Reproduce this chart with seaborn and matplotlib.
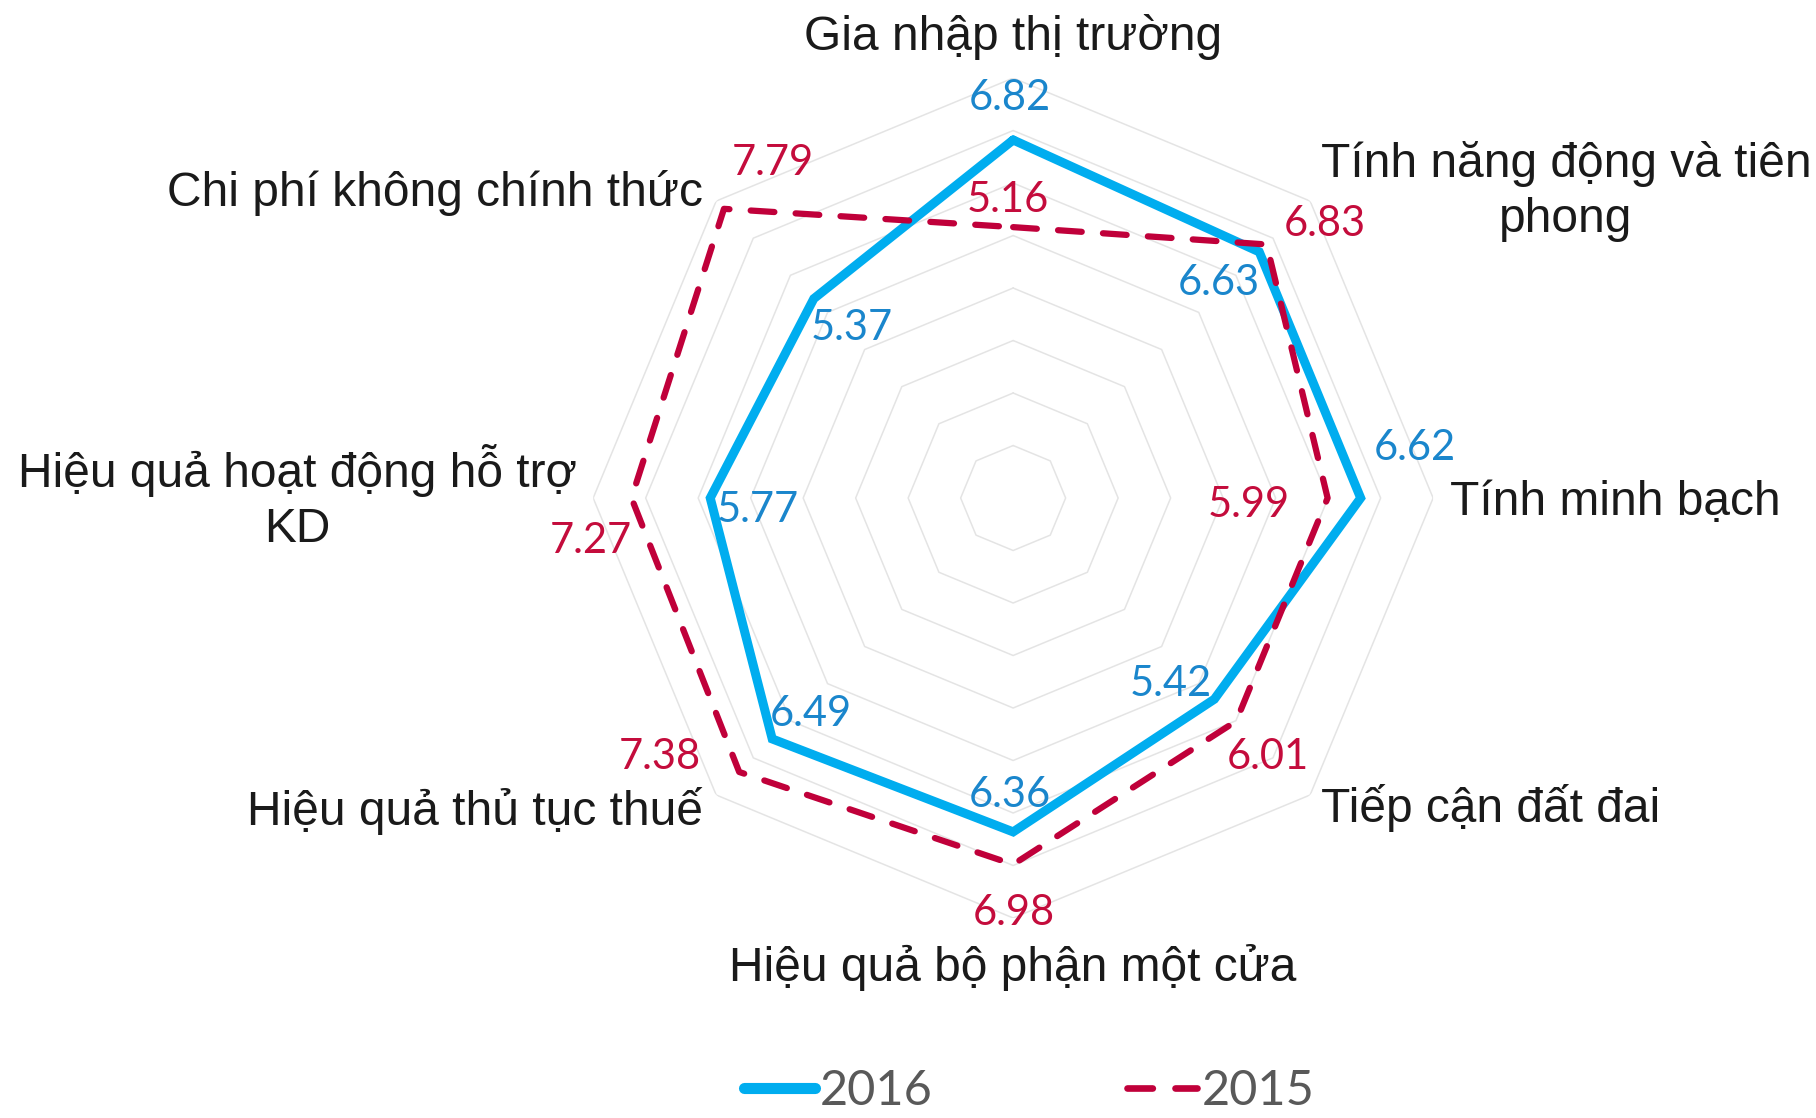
import numpy as np
import pandas as pd
import matplotlib
matplotlib.use("Agg")
import matplotlib.pyplot as plt
import seaborn as sns

# ---- data ----
categories = [
    "Gia nhập thị trường",
    "Tính năng động và tiên\nphong",
    "Tính minh bạch",
    "Tiếp cận đất đai",
    "Hiệu quả bộ phận một cửa",
    "Hiệu quả thủ tục thuế",
    "Hiệu quả hoạt động hỗ trợ\nKD",
    "Chi phí không chính thức",
]
values_2016 = [6.82, 6.63, 6.62, 5.42, 6.36, 6.49, 5.77, 5.37]
values_2015 = [5.16, 6.83, 5.99, 6.01, 6.98, 7.38, 7.27, 7.79]
series_names = ["2016", "2015"]
grid_levels = [1, 2, 3, 4, 5, 6, 7, 8]

# ---- styles ----
COL_2016 = "#00adef"
COL_2015 = "#c0003a"
TXT_2016 = "#1a86cc"
TXT_2015 = "#c40c3c"
W, H = 1816, 1118

sns.set_theme(style="white")
plt.rcParams["font.family"] = ["Liberation Sans", "DejaVu Sans"]
VAL_FONT = ["Lato", "Liberation Sans", "DejaVu Sans"]

fig = plt.figure(figsize=(W / 100, H / 100), dpi=100)
ax = fig.add_axes([0.3266, 0.1789, 0.4626, 0.7513], projection="polar")
ax.set_theta_zero_location("N")
ax.set_theta_direction(-1)

n = len(categories)
theta = np.arange(n) * 2 * np.pi / n
theta_c = np.append(theta, 2 * np.pi)

# octagonal grid
for lvl in grid_levels:
    ax.plot(theta_c, [lvl] * (n + 1), color="#e4e4e4", lw=1.1, zorder=1)

df = pd.DataFrame({
    "theta": np.concatenate([theta_c, theta_c]),
    "value": values_2016 + values_2016[:1] + values_2015 + values_2015[:1],
    "year": [series_names[0]] * (n + 1) + [series_names[1]] * (n + 1),
})

sns.lineplot(data=df[df["year"] == "2016"], x="theta", y="value", sort=False,
             ax=ax, color=COL_2016, linewidth=6.5, label="2016", zorder=3)
sns.lineplot(data=df[df["year"] == "2015"], x="theta", y="value", sort=False,
             ax=ax, color=COL_2015, linewidth=4.5, linestyle=(0, (3.8, 3.4)),
             label="2015", zorder=4)

line16 = [l for l in ax.lines if l.get_label() == "2016"][0]
line15 = [l for l in ax.lines if l.get_label() == "2015"][0]
line16.set_solid_joinstyle("miter")
line15.set_dash_capstyle("round")
line15.set_dash_joinstyle("round")

ax.set_ylim(0, 8)
ax.grid(False)
ax.set_xticks([])
ax.set_yticks([])
ax.spines["polar"].set_visible(False)
ax.set_xlabel("")
ax.set_ylabel("")
ax.patch.set_alpha(0)

# value labels (offsets in pixels, baseline-aligned)
off_2016 = [(-3, 30), (-40, -43), (54, 38), (-44, 3), (-3, 25), (39, 13), (47, -24), (38, -41)]
off_2015 = [(-5, 15), (58, 8), (-79, -19), (32, -48), (1, -61), (-79, 3), (-41, -55), (49, 34)]
for t, v, o in zip(theta, values_2016, off_2016):
    ax.annotate(f"{v:.2f}", xy=(t, v), xytext=o, textcoords="offset pixels",
                ha="center", va="baseline", fontsize=30, color=TXT_2016,
                family=VAL_FONT, zorder=6)
for t, v, o in zip(theta, values_2015, off_2015):
    ax.annotate(f"{v:.2f}", xy=(t, v), xytext=o, textcoords="offset pixels",
                ha="center", va="baseline", fontsize=30, color=TXT_2015,
                family=VAL_FONT, zorder=6)

# category labels (pixel positions of first-line baselines); one text per line
cat_pos = [(1013, 50), (1566, 177), (1615, 515), (1491, 822),
           (1013, 981), (475, 825), (297, 487), (435, 206)]
LINE_STEP = 55
for lab, (px, py) in zip(categories, cat_pos):
    for i, part in enumerate(lab.split("\n")):
        fig.text(px / W, 1 - (py + i * LINE_STEP) / H, part, ha="center",
                 va="baseline", fontsize=34.5, color="#1a1a1a")

# legend
leg = ax.legend([line16, line15], series_names, loc="center",
                bbox_to_anchor=(0.567, 0.024), bbox_transform=fig.transFigure,
                ncol=2, frameon=False, handlelength=1.45, handletextpad=0.1,
                columnspacing=4.0, borderpad=0,
                prop={"family": VAL_FONT, "size": 35})
for txt in leg.get_texts():
    txt.set_color("#595959")
lg = leg.get_lines()
lg[0].set_linewidth(8)
lg[1].set_linewidth(4.8)

fig.savefig("out.png", dpi=100, facecolor="white")
